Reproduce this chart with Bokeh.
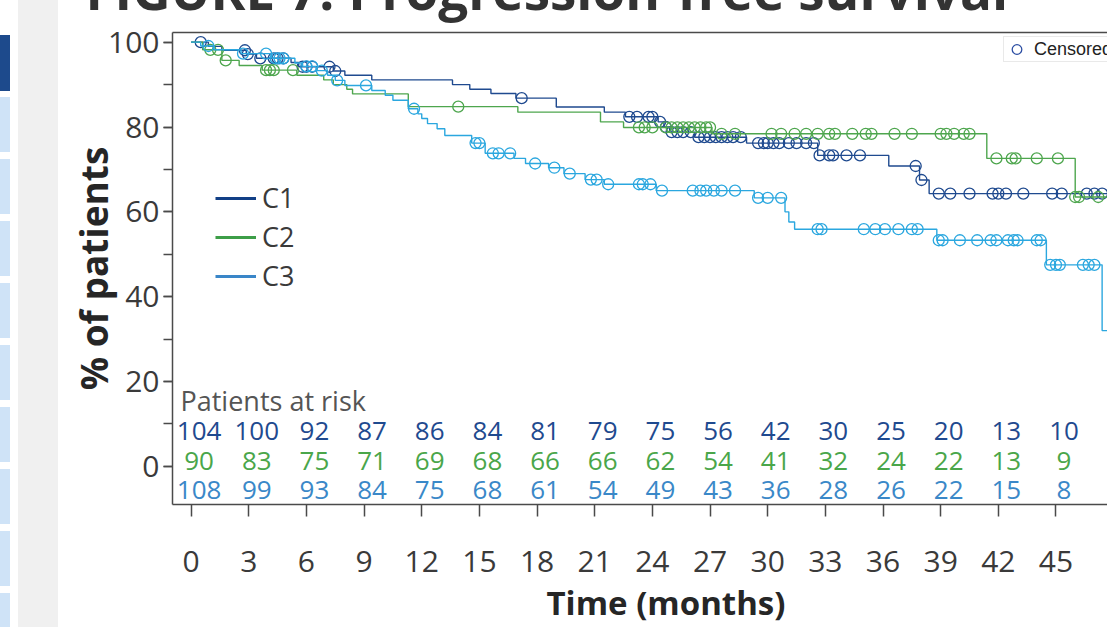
from bokeh.plotting import figure
from bokeh.layouts import row
from bokeh.models import (ColumnDataSource, Range1d, FixedTicker, SingleIntervalTicker,
                          LinearAxis, Legend, LegendItem, Label, Title, Div)
from bokeh.core.properties import value
from bokeh.embed import file_html
from bokeh.resources import INLINE

# ---------------- data ----------------
series = ["C1", "C2", "C3"]

c1_times = [0, 0.9, 1.6, 2.87, 3.4, 5.2, 5.6, 7.4, 8.0, 9.4, 13.6, 14.5, 15.6, 16.9, 19.0,
            21.5, 22.6, 24.3, 24.6, 24.9, 26.2, 28.9, 32.6, 36.3, 37.9, 38.4]
c1_surv = [100, 99.0, 98.1, 97.2, 96.2, 95.2, 94.2, 93.2, 92.2, 91.1, 90.0, 88.9, 87.9, 86.8, 84.7,
           83.5, 82.4, 81.2, 80.0, 78.8, 77.6, 76.2, 73.3, 70.8, 67.5, 64.3]
c1_censor = [0.5, 2.8, 2.95, 3.6, 4.3, 4.5, 4.8, 5.8, 6.0, 6.3, 7.2, 7.5, 17.2, 22.8, 23.2, 23.8,
             24.0, 24.4, 24.7, 25.0, 25.3, 25.6, 26.0, 26.4, 26.7, 27.0, 27.3, 27.6, 27.9, 28.2,
             28.6, 29.5, 29.8, 30.0, 30.3, 30.6, 31.1, 31.5, 32.0, 32.4, 32.7, 33.2, 33.4, 34.1,
             34.8, 37.7, 38.0, 38.9, 39.5, 40.5, 41.7, 42.0, 42.4, 43.3, 44.8, 45.3, 46.6, 47.0, 47.4]

c2_times = [0, 0.6, 1.6, 2.5, 3.7, 5.5, 6.9, 7.4, 8.1, 8.4, 11.3, 17.0, 21.3, 22.5, 27.1, 41.4, 46.0]
c2_surv = [100, 98.2, 95.7, 94.5, 93.4, 92.2, 91.1, 90.0, 88.9, 87.8, 84.8, 83.5, 81.2, 79.9,
           78.4, 72.6, 63.5]
c2_censor = [1.0, 1.4, 1.8, 3.9, 4.1, 4.3, 5.3, 13.9, 23.3, 23.6, 24.0, 24.7, 25.0, 25.3, 25.6,
             25.9, 26.2, 26.5, 26.8, 27.0, 27.6, 28.3, 30.2, 30.7, 31.4, 32.0, 32.6, 33.2, 33.5,
             34.4, 35.1, 35.4, 36.6, 37.5, 39.0, 39.3, 39.7, 40.2, 40.5, 41.9, 42.7, 42.9, 44.0,
             45.1, 46.0, 46.2, 47.2]

c3_times = [0, 0.5, 1.2, 2.6, 4.2, 5.4, 5.8, 6.5, 7.1, 7.5, 8.0, 9.4, 10.1, 10.5, 11.3, 11.8,
            12.0, 12.3, 12.8, 13.2, 14.6, 15.3, 16.8, 17.4, 18.6, 19.4, 20.5, 21.5, 24.2, 29.3,
            30.9, 31.1, 31.4, 38.8, 44.5, 47.4]
c3_surv = [100, 99.1, 98.2, 97.3, 96.2, 95.1, 94.3, 93.3, 92.2, 91.0, 89.8, 88.6, 87.5, 86.3,
           84.3, 83.1, 82.0, 80.8, 79.6, 78.0, 76.2, 73.8, 72.6, 71.4, 70.4, 69.0, 67.6, 66.5,
           65.0, 63.3, 60.0, 57.6, 55.9, 53.3, 47.5, 32.0]
c3_censor = [0.9, 2.7, 3.9, 4.4, 4.6, 4.8, 6.0, 6.3, 6.8, 7.6, 9.1, 11.6, 14.8, 15.0, 15.7, 16.0,
             16.6, 17.9, 18.9, 19.7, 20.8, 21.1, 21.7, 23.3, 23.5, 23.9, 24.5, 26.1, 26.5, 26.8,
             27.2, 27.6, 28.3, 29.5, 30.0, 30.7, 32.6, 32.8, 35.0, 35.6, 36.1, 36.8, 37.5, 37.8,
             38.9, 39.1, 40.0, 40.9, 41.6, 41.9, 42.5, 42.8, 43.0, 44.0, 44.2, 44.7, 45.0, 45.2,
             46.4, 46.7, 47.0]

risk_months = [0, 3, 6, 9, 12, 15, 18, 21, 24, 27, 30, 33, 36, 39, 42, 45, 48]
risk_c1 = [104, 100, 92, 87, 86, 84, 81, 79, 75, 56, 42, 30, 25, 20, 13, 10, 4]
risk_c2 = [90, 83, 75, 71, 69, 68, 66, 66, 62, 54, 41, 32, 24, 22, 13, 9, 1]
risk_c3 = [108, 99, 93, 84, 75, 68, 61, 54, 49, 43, 36, 28, 26, 22, 15, 8, 2]

x_ticks = [0, 3, 6, 9, 12, 15, 18, 21, 24, 27, 30, 33, 36, 39, 42, 45, 48]

# page decoration (sidebar strip at the left of the page), page pixels
deco_light_tops = [97, 159, 221, 283, 345, 407, 469, 531, 593]

# ---------------- styles ----------------
curve_colors = ["#1f4a8f", "#4ea64e", "#2ba7df"]
legend_colors = ["#123f86", "#3d9e48", "#3a86c8"]
risk_colors = ["#1f4a8f", "#4aa64a", "#3a88c8"]
risk_rows_y = [8.4, 1.3, -5.5]
TXT = "#3a3a3a"
AX = "#4a4a4a"
M = 70              # part of the canvas pushed above the window top
FULL_H = 627 + M
NAN = float("nan")


def step_xy(times, surv, end):
    xs, ys = [], []
    for i, (t, s) in enumerate(zip(times, surv)):
        if i > 0:
            xs.append(t)
            ys.append(surv[i - 1])
        xs.append(t)
        ys.append(s)
    xs.append(end)
    ys.append(surv[-1])
    return xs, ys


def surv_at(times, surv, t):
    v = surv[0]
    for tt, s in zip(times, surv):
        if tt <= t:
            v = s
    return v


# ---------------- page sidebar decoration ----------------
def box(left, top, w, h, color):
    return (f'<div style="position:absolute;left:{left}px;top:{top}px;width:{w}px;'
            f'height:{h}px;background:{color};"></div>')


deco_html = (f'<div style="position:relative;width:58px;height:{FULL_H}px;background:white;">'
             + box(18, 0, 40, FULL_H, "#f0f0f0")
             + box(0, M + 35, 10, 56, "#1d4a8c")
             + "".join(box(0, M + t, 10, 55, "#cfe3f7") for t in deco_light_tops)
             + "</div>")
deco = Div(text=deco_html, width=58, height=FULL_H, margin=(0, 0, 0, 0))

# ---------------- main figure ----------------
p = figure(width=1049, height=FULL_H,
           x_range=Range1d(-0.968, 47.68), y_range=Range1d(-9.0, 102.28),
           output_backend="svg", toolbar_location=None,
           min_border_left=114, min_border_right=0, min_border_top=32 + M, min_border_bottom=122)
p.xgrid.visible = False
p.ygrid.visible = False
p.outline_line_color = None
p.background_fill_color = "white"
p.border_fill_color = "white"

all_times = [c1_times, c2_times, c3_times]
all_surv = [c1_surv, c2_surv, c3_surv]
all_cens = [c1_censor, c2_censor, c3_censor]

for times, surv, cens, col in zip(all_times, all_surv, all_cens, curve_colors):
    xs, ys = step_xy(times, surv, 48.5)
    p.line(xs, ys, line_color=col, line_width=1.4)
    cy = [surv_at(times, surv, t) for t in cens]
    p.scatter(cens, cy, marker="circle", size=11, fill_color=None,
              line_color=col, line_width=1.3)

# risk table
for vals, col, ry in zip([risk_c1, risk_c2, risk_c3], risk_colors, risk_rows_y):
    src = ColumnDataSource(dict(x=risk_months, y=[ry] * len(risk_months),
                                t=[str(v) for v in vals]))
    p.text(x="x", y="y", text="t", source=src, x_offset=8,
           text_font=value("Open Sans"), text_font_size=value("26px"),
           text_align="center", text_baseline="middle", text_color=col)

p.add_layout(Label(x=8, y=104, x_units="screen", y_units="screen", text="Patients at risk",
                   text_font="Open Sans", text_font_size="27px", text_color="#555555",
                   text_baseline="middle", text_align="left"))

# axes
xa = p.xaxis[0]
xa.ticker = FixedTicker(ticks=x_ticks)
ya = p.yaxis[0]
ya.ticker = SingleIntervalTicker(interval=20, num_minor_ticks=2)
for ax in (xa, ya):
    ax.axis_line_color = AX
    ax.axis_line_width = 1.5
    ax.major_tick_line_color = AX
    ax.major_tick_line_width = 1.5
    ax.major_tick_in = 0
    ax.major_label_text_font = "Open Sans"
    ax.major_label_text_font_size = "30px"
    ax.major_label_text_color = TXT
xa.major_tick_out = 12
xa.minor_tick_out = 0
xa.minor_tick_in = 0
xa.major_label_standoff = 34
ya.major_tick_out = 9
ya.minor_tick_out = 9
ya.minor_tick_in = 0
ya.minor_tick_line_color = AX
ya.minor_tick_line_width = 1.5
ya.major_label_standoff = 4
ya.axis_label = "% of patients"
ya.axis_label_text_font = "Open Sans"
ya.axis_label_text_font_size = "37px"
ya.axis_label_text_font_style = "bold"
ya.axis_label_text_color = "#262626"
ya.axis_label_standoff = -14

top_axis = LinearAxis(ticker=FixedTicker(ticks=[]), axis_line_color=AX, axis_line_width=1.5,
                      major_tick_out=0, major_tick_in=0, minor_tick_out=0, minor_tick_in=0,
                      major_label_text_font_size="0px")
p.add_layout(top_axis, "above")

# chart title (mostly above the window top, as in the source page)
p.add_layout(Title(text="FIGURE 7: Progression-free survival", align="left", offset=-87,
                   standoff=14, vertical_align="bottom", text_font="Open Sans",
                   text_font_size="53px", text_font_style="bold", text_color="#333333"),
             "above")

# x axis title
p.add_layout(Title(text="Time (months)", align="left", offset=374, standoff=6,
                   vertical_align="bottom", text_font="Open Sans", text_font_size="33px",
                   text_font_style="bold", text_color="#262626"), "below")

# legends
leg_src = ColumnDataSource(dict(x=[NAN], y=[NAN]))
leg_lines = [p.line(x="x", y="y", source=leg_src, line_color=c, line_width=3)
             for c in legend_colors]
legend = Legend(items=[LegendItem(label=n, renderers=[r]) for n, r in zip(series, leg_lines)],
                location=(43, 210), glyph_width=41, glyph_height=30, label_height=30,
                spacing=2, padding=0, margin=0, label_standoff=6,
                label_text_font="Open Sans", label_text_font_size="27px",
                label_text_color=TXT, border_line_color=None, background_fill_alpha=0)
p.add_layout(legend)

cens_r = p.scatter(x="x", y="y", source=ColumnDataSource(dict(x=[NAN], y=[NAN])),
                   marker="circle", size=10, fill_color=None, line_color="#2c4ea3",
                   line_width=1.3)
legend2 = Legend(items=[LegendItem(label="Censored", renderers=[cens_r])],
                 location=(831, 442), glyph_width=25, glyph_height=24, label_height=24,
                 padding=0, margin=0, label_standoff=5,
                 label_text_font="Liberation Sans", label_text_font_size="18px",
                 label_text_color="#222222", border_line_color="#d4d4d4", border_line_width=1,
                 background_fill_color="white", background_fill_alpha=1)
p.add_layout(legend2)

layout = row(deco, p, margin=(-M, 0, 0, 0))

open("out.html", "w").write(file_html(layout, INLINE))
